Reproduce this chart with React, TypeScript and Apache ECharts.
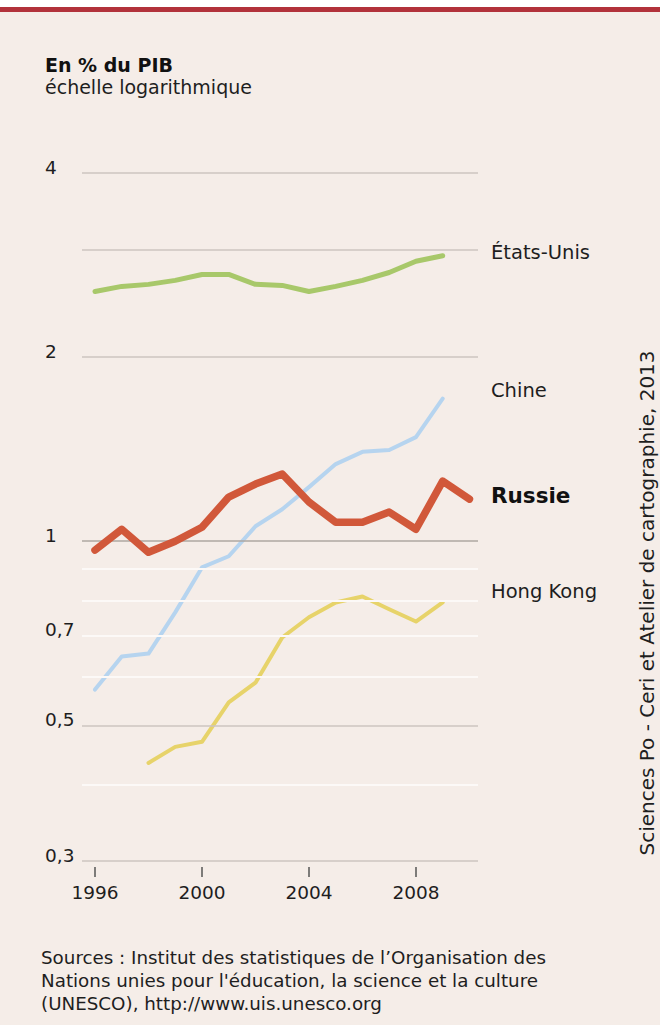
import React, { useEffect, useRef } from "react";
import * as echarts from "echarts";

const years = [1996, 1997, 1998, 1999, 2000, 2001, 2002, 2003, 2004, 2005, 2006, 2007, 2008, 2009, 2010];
const etatsUnis = [2.56, 2.61, 2.63, 2.67, 2.73, 2.73, 2.63, 2.62, 2.56, 2.61, 2.67, 2.75, 2.87, 2.93, null];
const chine = [0.572, 0.648, 0.655, 0.765, 0.906, 0.945, 1.058, 1.128, 1.226, 1.337, 1.4, 1.41, 1.48, 1.71, null];
const russie = [0.967, 1.046, 0.959, 1.0, 1.054, 1.181, 1.24, 1.288, 1.159, 1.074, 1.074, 1.116, 1.046, 1.254, 1.172];
const hongKong = [null, null, 0.434, 0.461, 0.47, 0.545, 0.587, 0.696, 0.751, 0.794, 0.812, 0.774, 0.739, 0.794, null];

const xTicks = [1996, 2000, 2004, 2008];
const yLabels = [0.3, 0.5, 0.7, 1, 2, 4];
const majorGrid = [0.3, 0.5, 2, 3, 4];
const unitGrid = [1];
const minorGrid = [0.4, 0.6, 0.7, 0.8, 0.9];

const seriesNames = ["États-Unis", "Chine", "Russie", "Hong Kong"];

const FONT = "DejaVu Sans";

function pairs(vals: (number | null)[]) {
  const out: [number, number][] = [];
  vals.forEach((v, i) => {
    if (v !== null) out.push([years[i], v]);
  });
  return out;
}

export default function App() {
  const ref = useRef<HTMLDivElement>(null);
  useEffect(() => {
    document.body.style.margin = "0";
    const chart = echarts.init(ref.current!, null, { renderer: "svg" });
    const lineBase = { type: "line", showSymbol: false, symbol: "none", silent: true };
    const gridLines = [
      ...minorGrid.map((v) => ({ yAxis: v, lineStyle: { color: "#fcf9f7", width: 2, type: "solid" } })),
      ...majorGrid.map((v) => ({ yAxis: v, lineStyle: { color: "#cdc5c0", width: 1.5, type: "solid" } })),
      ...unitGrid.map((v) => ({ yAxis: v, lineStyle: { color: "#aea7a2", width: 1.5, type: "solid" } })),
    ];
    chart.setOption({
      animation: false,
      backgroundColor: "#f5ede8",
      grid: { left: 82, right: 182, top: 173, bottom: 164 },
      xAxis: {
        type: "value",
        min: 1995.514,
        max: 2010.32,
        offset: 6,
        splitLine: { show: false },
        axisLine: { show: false },
        axisTick: {
          show: true,
          length: 10,
          customValues: xTicks,
          lineStyle: { color: "#555", width: 1.5 },
        },
        axisLabel: {
          customValues: xTicks,
          margin: 16,
          fontFamily: FONT,
          fontSize: 18.5,
          color: "#1e1e1e",
          formatter: (v: number) => String(Math.round(v)),
        },
      },
      yAxis: {
        type: "log",
        logBase: 10,
        min: 0.3,
        max: 4,
        splitLine: { show: false },
        axisLine: { show: false },
        axisTick: { show: false },
        axisLabel: {
          customValues: yLabels,
          align: "left",
          margin: 37,
          fontFamily: FONT,
          fontSize: 18.5,
          color: "#1e1e1e",
          verticalAlign: "bottom",
          lineHeight: 12,
          formatter: (v: number) => String(+(+v).toFixed(2)).replace(".", ","),
        },
      },
      series: [
        {
          ...lineBase,
          name: "grid",
          data: [[1996, 1]],
          lineStyle: { width: 0, opacity: 0 },
          markLine: {
            silent: true,
            symbol: ["none", "none"],
            label: { show: false },
            data: gridLines,
          },
          z: 1,
        },
        {
          ...lineBase,
          name: seriesNames[1],
          data: pairs(chine),
          lineStyle: { color: "#b6d4ef", width: 4, cap: "round", join: "round" },
          z: 2,
        },
        {
          ...lineBase,
          name: seriesNames[3],
          data: pairs(hongKong),
          lineStyle: { color: "#e7d36a", width: 4, cap: "round", join: "round" },
          z: 3,
        },
        {
          ...lineBase,
          name: seriesNames[0],
          data: pairs(etatsUnis),
          lineStyle: { color: "#a8c86a", width: 5, cap: "round", join: "round" },
          z: 4,
        },
        {
          ...lineBase,
          name: seriesNames[2],
          data: pairs(russie),
          lineStyle: { color: "#d1583a", width: 7.5, cap: "round", join: "round" },
          z: 5,
        },
      ],
      graphic: [
        { type: "rect", shape: { x: 0, y: 0, width: 660, height: 7 }, style: { fill: "#ffffff" } },
        { type: "rect", shape: { x: 0, y: 7, width: 660, height: 5 }, style: { fill: "#b2323b" } },
        {
          type: "text",
          x: 45,
          y: 65,
          style: { text: "En % du PIB", font: `bold 19px "${FONT}"`, fill: "#111", verticalAlign: "middle", align: "left" },
        },
        {
          type: "text",
          x: 45,
          y: 87,
          style: { text: "échelle logarithmique", font: `19px "${FONT}"`, fill: "#1e1e1e", verticalAlign: "middle", align: "left" },
        },
        {
          type: "text",
          x: 491,
          y: 252,
          style: { text: seriesNames[0], font: `19.5px "${FONT}"`, fill: "#1e1e1e", verticalAlign: "middle", align: "left" },
        },
        {
          type: "text",
          x: 491,
          y: 390,
          style: { text: seriesNames[1], font: `19.5px "${FONT}"`, fill: "#1e1e1e", verticalAlign: "middle", align: "left" },
        },
        {
          type: "text",
          x: 491,
          y: 495,
          style: { text: seriesNames[2], font: `bold 21.5px "${FONT}"`, fill: "#111", verticalAlign: "middle", align: "left" },
        },
        {
          type: "text",
          x: 491,
          y: 591,
          style: { text: seriesNames[3], font: `19.5px "${FONT}"`, fill: "#1e1e1e", verticalAlign: "middle", align: "left" },
        },
        {
          type: "text",
          x: 647,
          y: 603,
          rotation: Math.PI / 2,
          style: {
            text: "Sciences Po - Ceri et Atelier de cartographie, 2013",
            font: `20px "${FONT}"`,
            fill: "#1e1e1e",
            verticalAlign: "middle",
            align: "center",
          },
        },
        {
          type: "text",
          x: 41,
          y: 946,
          style: {
            text:
              "Sources : Institut des statistiques de l’Organisation des\nNations unies pour l'éducation, la science et la culture\n(UNESCO), http://www.uis.unesco.org",
            font: `18.3px "${FONT}"`,
            lineHeight: 23,
            fill: "#1e1e1e",
            verticalAlign: "top",
            align: "left",
          },
        },
      ],
    });
    return () => chart.dispose();
  }, []);
  return <div ref={ref} style={{ position: "absolute", left: 0, top: 0, width: 660, height: 1025 }} />;
}
